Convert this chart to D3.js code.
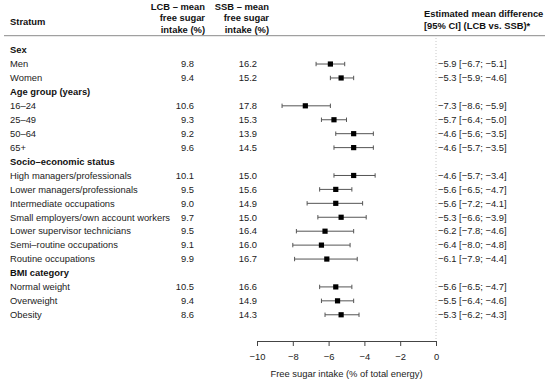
<!DOCTYPE html>
<html>
<head>
<meta charset="utf-8">
<script src="https://cdn.jsdelivr.net/npm/d3@7"></script>
<style>
  body { margin: 0; background: #fff; }
  text { font-family: "Liberation Sans", Arial, Helvetica, sans-serif; font-size: 9.4px; fill: #222; }
  .bold { font-weight: bold; fill: #111; }
</style>
</head>
<body>
<svg id="forest" width="550" height="384"></svg>
<script>
// group headings and the strata under each
const groups = ["Sex", "Age group (years)", "Socio–economic status", "BMI category"];
const strata = [
  ["Men", "Women"],
  ["16–24", "25–49", "50–64", "65+"],
  ["High managers/professionals", "Lower managers/professionals", "Intermediate occupations",
   "Small employers/own account workers", "Lower supervisor technicians",
   "Semi–routine occupations", "Routine occupations"],
  ["Normal weight", "Overweight", "Obesity"]
];
// flat per-stratum values (same order as strata above)
const lcbMean = [9.8, 9.4, 10.6, 9.3, 9.2, 9.6, 10.1, 9.5, 9.0, 9.7, 9.5, 9.1, 9.9, 10.5, 9.4, 8.6];
const ssbMean = [16.2, 15.2, 17.8, 15.3, 13.9, 14.5, 15.0, 15.6, 14.9, 15.0, 16.4, 16.0, 16.7, 16.6, 14.9, 14.3];
const diffEst = [-5.9, -5.3, -7.3, -5.7, -4.6, -4.6, -4.6, -5.6, -5.6, -5.3, -6.2, -6.4, -6.1, -5.6, -5.5, -5.3];
const diffLo  = [-6.7, -5.9, -8.6, -6.4, -5.6, -5.7, -5.7, -6.5, -7.2, -6.6, -7.8, -8.0, -7.9, -6.5, -6.4, -6.2];
const diffHi  = [-5.1, -4.6, -5.9, -5.0, -3.5, -3.5, -3.4, -4.7, -4.1, -3.9, -4.6, -4.8, -4.4, -4.7, -4.6, -4.3];
const xTicks = [-10, -8, -6, -4, -2, 0];

// build row list: heading rows then data rows
let rows = [], k = 0;
groups.forEach((g, gi) => {
  rows.push({ heading: true, label: g });
  strata[gi].forEach(s => {
    rows.push({ heading: false, label: s, lcb: lcbMean[k], ssb: ssbMean[k],
                est: diffEst[k], lo: diffLo[k], hi: diffHi[k] });
    k++;
  });
});

const svg = d3.select("#forest");
const minus = v => (v < 0 ? "\u2212" : "") + Math.abs(v).toFixed(1);

const x = d3.scaleLinear().domain([-10, 0]).range([257, 436]);
const y = d3.scaleLinear().domain([0, rows.length - 1]).range([50.1, 50.1 + (rows.length - 1) * 13.93]);
const axisY = 341;

// column headers
svg.append("text").attr("class", "bold").attr("x", 10).attr("y", 22).attr("dy", "0.35em").text("Stratum");
const hdr = (xx, lines, anchor, y0) => {
  lines.forEach((t, i) => svg.append("text").attr("class", "bold")
    .attr("x", xx).attr("y", y0 + i * 11.3).attr("dy", "0.35em")
    .attr("text-anchor", anchor).text(t));
};
hdr(205, ["LCB – mean", "free sugar", "intake (%)"], "end", 6.8);
hdr(269, ["SSB – mean", "free sugar", "intake (%)"], "end", 6.8);
hdr(424, ["Estimated mean difference", "[95% CI] (LCB vs. SSB)*"], "start", 14);

svg.append("line").attr("x1", 4).attr("x2", 545).attr("y1", 35.7).attr("y2", 35.7)
  .attr("stroke", "#8a8a8a").attr("stroke-width", 1);

// reference line at zero
svg.append("line").attr("x1", x(0)).attr("x2", x(0)).attr("y1", 38).attr("y2", axisY)
  .attr("stroke", "#c8c8c8").attr("stroke-dasharray", "1,2");

const row = svg.append("g").selectAll("g").data(rows).enter().append("g")
  .attr("transform", (d, i) => "translate(0," + y(i) + ")");

row.append("text").attr("class", d => d.heading ? "bold" : null)
  .attr("x", 10).attr("dy", "0.35em").text(d => d.label);

const dat = row.filter(d => !d.heading);
dat.append("text").attr("x", 194).attr("dy", "0.35em").attr("text-anchor", "end").text(d => d.lcb.toFixed(1));
dat.append("text").attr("x", 257).attr("dy", "0.35em").attr("text-anchor", "end").text(d => d.ssb.toFixed(1));
dat.append("text").attr("x", 438).attr("dy", "0.35em")
  .text(d => minus(d.est) + " [" + minus(d.lo) + "; " + minus(d.hi) + "]");

// CI whiskers
dat.append("line").attr("x1", d => x(d.lo)).attr("x2", d => x(d.hi))
  .attr("stroke", "#555").attr("stroke-width", 1);
dat.append("line").attr("x1", d => x(d.lo)).attr("x2", d => x(d.lo)).attr("y1", -2.2).attr("y2", 2.2)
  .attr("stroke", "#555");
dat.append("line").attr("x1", d => x(d.hi)).attr("x2", d => x(d.hi)).attr("y1", -2.2).attr("y2", 2.2)
  .attr("stroke", "#555");
dat.append("rect").attr("x", d => x(d.est) - 2.6).attr("y", -2.6).attr("width", 5.2).attr("height", 5.2)
  .attr("fill", "#000");

// x axis
const ax = svg.append("g").attr("transform", "translate(0," + axisY + ")")
  .call(d3.axisBottom(x).tickValues(xTicks).tickSize(5).tickPadding(7).tickSizeOuter(0));
ax.select(".domain").attr("stroke", "#444");
ax.selectAll(".tick line").attr("stroke", "#444");
ax.selectAll(".tick text").style("font-size", "9.4px").style("font-family", "'Liberation Sans', Arial, sans-serif").attr("fill", "#222");

svg.append("text").attr("x", (x(-10) + x(0)) / 2).attr("y", 374).attr("dy", "0.35em")
  .attr("text-anchor", "middle").text("Free sugar intake (% of total energy)");
</script>
</body>
</html>
